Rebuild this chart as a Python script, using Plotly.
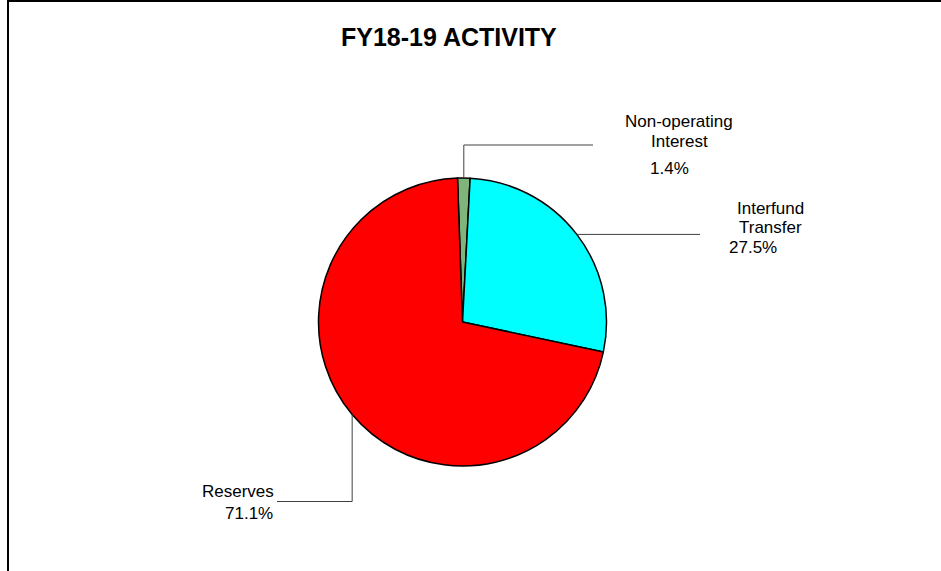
import math
import plotly.graph_objects as go

categories = ["Non-operating Interest", "Interfund Transfer", "Reserves"]
label_lines = [["Non-operating", "Interest"], ["Interfund", "Transfer"], ["Reserves"]]
values = [1.4, 27.5, 71.1]
pct_labels = ["1.4%", "27.5%", "71.1%"]
colors = ["#7fb47a", "#00ffff", "#ff0000"]

W, H = 941, 571
CX, CY, R = 462.5, 322, 144
ROT = -2.0


def px(x):
    return x / W


def py(y):
    return 1 - y / H


fig = go.Figure(go.Pie(
    labels=categories, values=values, sort=False, direction="clockwise",
    rotation=ROT, textinfo="none", hoverinfo="label+percent",
    marker=dict(colors=colors, line=dict(color="#000000", width=1.5)),
    domain=dict(x=[px(CX - R), px(CX + R)], y=[py(CY + R), py(CY - R)]),
    showlegend=False,
))

# attachment points on the pie edge, from slice mid-angles
total = sum(values)
cum = 0
anchors = []
for v in values:
    mid = ROT + (cum + v / 2) / total * 360
    cum += v
    a = math.radians(mid)
    anchors.append((CX + R * math.sin(a), CY - R * math.cos(a)))

line_style = dict(color="#404040", width=1)
shapes = []
# Non-operating Interest leader
ax, ay = anchors[0]
shapes.append(dict(type="path", xref="paper", yref="paper", line=line_style,
                   path=f"M {px(ax)},{py(ay)} L {px(ax)},{py(145)} L {px(593)},{py(145)}"))
# Interfund Transfer leader
ax, ay = anchors[1]
shapes.append(dict(type="path", xref="paper", yref="paper", line=line_style,
                   path=f"M {px(ax)},{py(ay)} L {px(700)},{py(ay)}"))
# Reserves leader
ax, ay = anchors[2]
shapes.append(dict(type="path", xref="paper", yref="paper", line=line_style,
                   path=f"M {px(ax)},{py(ay)} L {px(ax)},{py(501.5)} L {px(277)},{py(501.5)}"))
# frame
shapes.append(dict(type="line", xref="paper", yref="paper", x0=px(8), x1=px(8), y0=0, y1=1,
                   line=dict(color="#000000", width=2)))
shapes.append(dict(type="line", xref="paper", yref="paper", x0=px(8), x1=1, y0=py(1), y1=py(1),
                   line=dict(color="#000000", width=2)))

font = dict(family="Liberation Sans, Arial, sans-serif", size=17, color="#000000")
label_pos = [(679, 121.5), (770, 208.5), (238, 491.5)]
line_gap = 19.5
pct_pos = [(669.5, 169), (753, 248), (249, 513)]
annotations = []
for lines, (x, y) in zip(label_lines, label_pos):
    for i, ln in enumerate(lines):
        annotations.append(dict(text=ln, x=px(x), y=py(y + i * line_gap), xref="paper",
                                yref="paper", showarrow=False, font=font, borderpad=0,
                                xanchor="center", yanchor="middle"))
for lab, (x, y) in zip(pct_labels, pct_pos):
    annotations.append(dict(text=lab, x=px(x), y=py(y), xref="paper", yref="paper",
                            showarrow=False, font=font, borderpad=0,
                            xanchor="center", yanchor="middle"))
annotations.append(dict(text="<b>FY18-19 ACTIVITY</b>", x=px(449), y=py(37), xref="paper",
                        yref="paper", showarrow=False, xanchor="center", yanchor="middle",
                        font=dict(family="Liberation Sans, Arial, sans-serif", size=25,
                                  color="#000000")))

fig.update_layout(
    width=W, height=H, margin=dict(l=0, r=0, t=0, b=0),
    paper_bgcolor="#ffffff", plot_bgcolor="#ffffff",
    shapes=shapes, annotations=annotations,
)

fig.write_html(
    "out.html",
    config={"displayModeBar": False},
    post_script="document.body.style.margin='0';document.body.style.overflow='hidden';",
)
